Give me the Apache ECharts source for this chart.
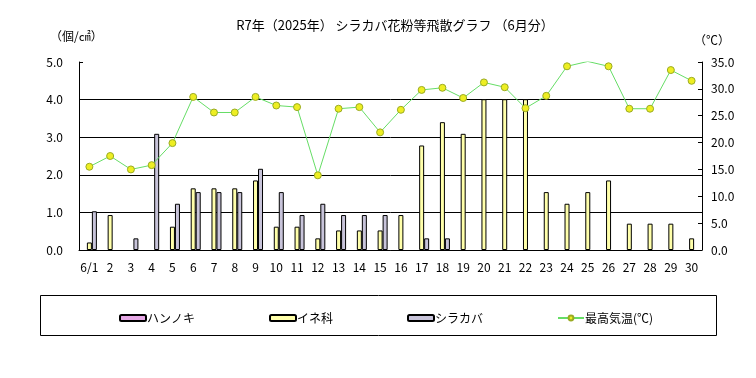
<!DOCTYPE html>
<html><head><meta charset="utf-8">
<script src="https://cdn.jsdelivr.net/npm/echarts@6/dist/echarts.min.js"></script>
<style>html,body{margin:0;padding:0;background:#fff}#c{width:756px;height:378px}</style>
</head><body><div id="c"></div>
<script>
const days = ['6/1','2','3','4','5','6','7','8','9','10','11','12','13','14','15','16','17','18','19','20','21','22','23','24','25','26','27','28','29','30'];
const hannoki = [0,0,0,0,0,0,0,0,0,0,0,0,0,0,0,0,0,0,0,0,0,0,0,0,0,0,0,0,0,0];
const ineka = [0.2,0.93,0,0,0.62,1.64,1.64,1.64,1.85,0.62,0.62,0.31,0.52,0.52,0.52,0.93,2.78,3.4,3.09,4.01,4.01,4.01,1.54,1.23,1.54,1.85,0.7,0.7,0.7,0.31];
const shirakaba = [1.03,0,0.31,3.09,1.23,1.54,1.54,1.54,2.16,1.54,0.93,1.23,0.93,0.93,0.93,0,0.31,0.31,0,0,0,0,0,0,0,0,0,0,0,0];
const maxTemp = [15.5,17.5,15.0,15.8,19.9,28.5,25.6,25.6,28.5,26.9,26.6,13.9,26.3,26.6,21.9,26.1,29.8,30.2,28.3,31.2,30.3,26.4,28.7,34.2,35.1,34.2,26.3,26.3,33.5,31.5];
const leftTicks = {min:0, max:5, interval:1};
const rightTicks = {min:0, max:35, interval:5};

const hideZero = arr => arr.map(v => v === 0 ? '-' : v);
const FONT = '"Noto Sans CJK JP", sans-serif';
const chart = echarts.init(document.getElementById('c'));
chart.setOption({
  animation: false,
  textStyle: {fontFamily: FONT, color: '#000'},
  title: {
    text: 'R7年（2025年） シラカバ花粉等飛散グラフ （6月分）',
    left: 390, top: 14, textAlign: 'center',
    textStyle: {fontSize: 13, fontWeight: 'normal', color: '#000', fontFamily: FONT}
  },
  grid: {left: 79, right: 54, top: 62, bottom: 128, containLabel: false},
  legend: {
    left: 114, top: 307, itemGap: 74, itemWidth: 26, itemHeight: 6,
    textStyle: {fontSize: 12, color: '#000', fontFamily: FONT, padding: [0,0,0,-4]},
    data: ['ハンノキ','イネ科','シラカバ','最高気温(℃)']
  },
  graphic: [
    {type: 'rect', shape: {x: 40.5, y: 295.5, width: 676, height: 40}, style: {fill: 'none', stroke: '#000', lineWidth: 1}, silent: true},
    {type: 'text', left: 50, top: 30, style: {text: '（個/㎠）', font: '12px ' + FONT, fill: '#000'}},
    {type: 'text', left: 694, top: 34, style: {text: '（℃）', font: '12px ' + FONT, fill: '#000'}}
  ],
  xAxis: {
    type: 'category', data: days, boundaryGap: true,
    axisLine: {lineStyle: {color: '#000', width: 1}},
    axisTick: {inside: true, length: 3, lineStyle: {color: '#000'}},
    axisLabel: {color: '#000', fontSize: 12, margin: 11, interval: 0, fontFamily: FONT}
  },
  yAxis: [
    {
      type: 'value', min: leftTicks.min, max: leftTicks.max, interval: leftTicks.interval,
      axisLine: {show: true, lineStyle: {color: '#000'}},
      axisTick: {show: true, inside: true, length: 4, lineStyle: {color: '#000'}},
      axisLabel: {color: '#000', fontSize: 12, margin: 16, formatter: v => v.toFixed(1), fontFamily: FONT},
      splitLine: {show: true, lineStyle: {color: ['#000','#000','#000','#000','#000','rgba(0,0,0,0)'], width: 1}}
    },
    {
      type: 'value', min: rightTicks.min, max: rightTicks.max, interval: rightTicks.interval,
      axisLine: {show: true, lineStyle: {color: '#000'}},
      axisTick: {show: true, inside: true, length: 4, lineStyle: {color: '#000'}},
      axisLabel: {color: '#000', fontSize: 12, margin: 9, formatter: v => v.toFixed(1), fontFamily: FONT},
      splitLine: {show: false}
    }
  ],
  series: [
    {name: 'ハンノキ', type: 'bar', data: hideZero(hannoki), barWidth: 5, barGap: '0%',
     itemStyle: {color: '#E6A8E6', borderColor: '#000', borderWidth: 1}},
    {name: 'イネ科', type: 'bar', data: hideZero(ineka), barWidth: 5, barGap: '0%',
     itemStyle: {color: '#FFFFAA', borderColor: '#000', borderWidth: 1}},
    {name: 'シラカバ', type: 'bar', data: hideZero(shirakaba), barWidth: 5, barGap: '0%',
     itemStyle: {color: '#C8C4DA', borderColor: '#000', borderWidth: 1}},
    {name: '最高気温(℃)', type: 'line', yAxisIndex: 1, data: maxTemp,
     symbol: 'circle', symbolSize: 7, z: 5,
     lineStyle: {color: '#66DD66', width: 1},
     itemStyle: {color: '#EEEE22', borderColor: '#99AA22', borderWidth: 1}}
  ]
});
</script></body></html>
